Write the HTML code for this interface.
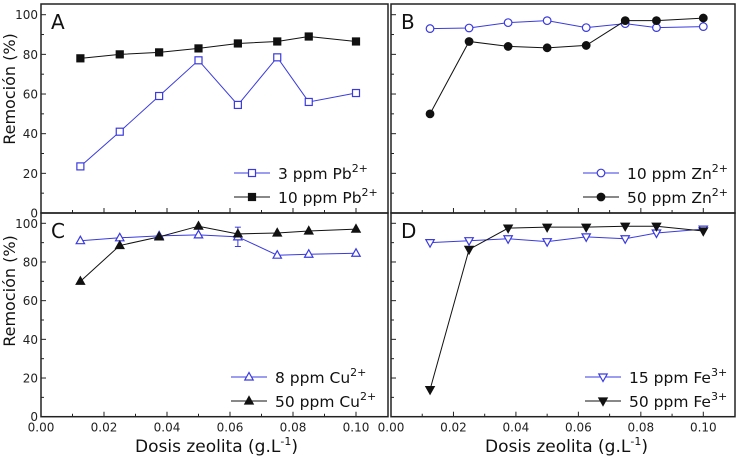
<!DOCTYPE html>
<html><head><meta charset="utf-8"><style>
html,body{margin:0;padding:0;background:#fff;}
svg{display:block;font-family:"DejaVu Sans","Liberation Sans",sans-serif;}
</style></head><body>
<svg id="chart" width="736" height="460" viewBox="0 0 736 460"></svg>
<script>
const xValues=[0.0125,0.025,0.0375,0.05,0.0625,0.075,0.085,0.1];
const xTicks=[0,0.02,0.04,0.06,0.08,0.10];
const xTickLabels=["0.00","0.02","0.04","0.06","0.08","0.10"];
const yTicks=[0,20,40,60,80,100];
const pbLow=[23.5,41,59,77,54.5,78.5,56,60.5];
const pbHigh=[78,80,81,83,85.5,86.5,89,86.5];
const znLow=[93,93.3,96,97,93.5,95.5,93.5,94];
const znHigh=[50,86.5,84,83.3,84.5,97,97,98.3];
const cuLow=[91,92.5,93.5,94,93,83.5,84,84.5];
const cuHigh=[70,88.5,93,98.5,94.5,95,96,97];
const cuLowErr=[0,0,0,0,5,0,0,0];
const feLow=[90,91,92,90.5,93,92,95,97];
const feHigh=[14,86.5,97.5,98,98,98.5,98.5,96];

const NS="http://www.w3.org/2000/svg";
const svg=document.getElementById('chart');
function mk(tag,attrs,parent){const e=document.createElementNS(NS,tag);for(const k in attrs)e.setAttribute(k,attrs[k]);(parent||svg).appendChild(e);return e;}
const BLUE="#3a3ae0";
const panels=[
 {id:'a',letter:'A',x0:41,x1:388,xz:41,xt:356,top:4,bot:213,y100:14.7,series:[[pbLow,'square',false,BLUE,'3 ppm Pb','2+'],[pbHigh,'square',true,'#111','10 ppm Pb','2+']],leg:{lx:234,ly:173,tx:278},yLabels:true,xLabels:false},
 {id:'b',letter:'B',x0:391,x1:735,xz:391,xt:703.3,top:4,bot:213,y100:14.7,series:[[znLow,'circle',false,BLUE,'10 ppm Zn','2+'],[znHigh,'circle',true,'#111','50 ppm Zn','2+']],leg:{lx:583,ly:173,tx:627},yLabels:false,xLabels:false},
 {id:'c',letter:'C',x0:41,x1:388,xz:41,xt:356,top:213,bot:416.7,y100:223.3,series:[[cuLow,'tri',false,BLUE,'8 ppm Cu','2+',cuLowErr],[cuHigh,'tri',true,'#111','50 ppm Cu','2+']],leg:{lx:231,ly:377,tx:275},yLabels:true,xLabels:true},
 {id:'d',letter:'D',x0:391,x1:735,xz:391,xt:703.3,top:213,bot:416.7,y100:223.3,series:[[feLow,'itri',false,BLUE,'15 ppm Fe','3+'],[feHigh,'itri',true,'#111','50 ppm Fe','3+']],leg:{lx:585,ly:377,tx:629},yLabels:false,xLabels:true}
];
function marker(g,shape,x,y,filled,color,name){
 const fill=filled?color:'#fff';let e;
 if(shape==='square')e=mk('rect',{x:x-3.5,y:y-3.5,width:7,height:7,fill:fill,stroke:color,'stroke-width':1.2},g);
 else if(shape==='circle')e=mk('circle',{cx:x,cy:y,r:3.8,fill:fill,stroke:color,'stroke-width':1.2},g);
 else if(shape==='tri')e=mk('polygon',{points:`${x},${y-4.5} ${x-4.2},${y+3} ${x+4.2},${y+3}`,fill:fill,stroke:color,'stroke-width':1.2},g);
 else e=mk('polygon',{points:`${x},${y+4.5} ${x-4.2},${y-3} ${x+4.2},${y-3}`,fill:fill,stroke:color,'stroke-width':1.2},g);
 
 
 return e;
}
panels.forEach(p=>{
 const g=mk('g',{});
 
 
 const sx=v=>p.xz+(v/0.1)*(p.xt-p.xz);
 const sy=v=>p.bot-(v/100)*(p.bot-p.y100);
 const fr=mk('rect',{x:p.x0,y:p.top,width:p.x1-p.x0,height:p.bot-p.top,fill:'none',stroke:'#222','stroke-width':1.5},g);
 
 
 for(let v=0.01;v<=0.11;v+=0.01){const X=sx(v);if(X>p.x1-1)break;const major=Math.round(v*100)%2===0;mk('line',{x1:X,x2:X,y1:p.bot,y2:p.bot-(major?5:3),stroke:'#222','stroke-width':1},g);}
 if(p.xLabels){xTicks.forEach((t,i)=>{const tx=mk('text',{x:sx(t),y:p.bot+15,'font-size':12,'text-anchor':'middle',fill:'#222'},g);tx.textContent=xTickLabels[i];});}
 for(let v=10;v<=100;v+=10){const Y=sy(v);const major=v%20===0;mk('line',{x1:p.x0,x2:p.x0+(major?5:3),y1:Y,y2:Y,stroke:'#222','stroke-width':1},g);}
 if(p.yLabels){yTicks.forEach(t=>{const tx=mk('text',{x:p.x0-3,y:sy(t)+4.5,'font-size':12,'text-anchor':'end',fill:'#222'},g);tx.textContent=String(t);});}
 const L=mk('text',{x:p.x0+10,y:p.top+25,'font-size':20,fill:'#111'},g);L.textContent=p.letter;
 
 p.series.forEach((s,si)=>{
  const [vals,shape,filled,color,lab,sup,err]=s;
  const sg=mk('g',{},g);
  
  
  const pl=mk('polyline',{points:vals.map((v,i)=>sx(xValues[i])+','+sy(v)).join(' '),fill:'none',stroke:color,'stroke-width':1},sg);
  
  if(err)err.forEach((e,i)=>{if(!e)return;const X=sx(xValues[i]);mk('line',{x1:X,x2:X,y1:sy(vals[i]+e),y2:sy(vals[i]-e),stroke:color,'stroke-width':1},sg);mk('line',{x1:X-3,x2:X+3,y1:sy(vals[i]+e),y2:sy(vals[i]+e),stroke:color,'stroke-width':1},sg);mk('line',{x1:X-3,x2:X+3,y1:sy(vals[i]-e),y2:sy(vals[i]-e),stroke:color,'stroke-width':1},sg);});
  vals.forEach((v,i)=>marker(sg,shape,sx(xValues[i]),sy(v),filled,color,'data-point'));
  const ly=p.leg.ly+si*24;
  const lg=mk('g',{},g);
  
  
  mk('line',{x1:p.leg.lx,x2:p.leg.lx+36,y1:ly,y2:ly,stroke:color,'stroke-width':1},lg);
  marker(lg,shape,p.leg.lx+18,ly,filled,color,'legend-marker');
  const t=mk('text',{x:p.leg.tx,y:ly+6,'font-size':15.5,fill:'#111'},lg);
  t.textContent=lab;
  const ts=mk('tspan',{dy:-7,'font-size':11},t);ts.textContent=sup;
 });
 svg.appendChild(g);
});
function label(txt,attrs,name){const t=mk('text',attrs);t.textContent=txt;return t;}
label('Remoción (%)',{x:0,y:0,'font-size':16,'text-anchor':'middle',fill:'#111',transform:'translate(15,89) rotate(-90)'},'y-axis-title-top');
label('Remoción (%)',{x:0,y:0,'font-size':16,'text-anchor':'middle',fill:'#111',transform:'translate(15,291) rotate(-90)'},'y-axis-title-bottom');
const xa1=label('Dosis zeolita (g.L',{x:135,y:452,'font-size':17,fill:'#111'},'x-axis-title-left');
const s1=mk('tspan',{dy:-7,'font-size':11},xa1);s1.textContent='-1';const e1=mk('tspan',{dy:7},xa1);e1.textContent=')';
const xa2=label('Dosis zeolita (g.L',{x:485,y:452,'font-size':17,fill:'#111'},'x-axis-title-right');
const s2=mk('tspan',{dy:-7,'font-size':11},xa2);s2.textContent='-1';const e2=mk('tspan',{dy:7},xa2);e2.textContent=')';
</script>
</body></html>
